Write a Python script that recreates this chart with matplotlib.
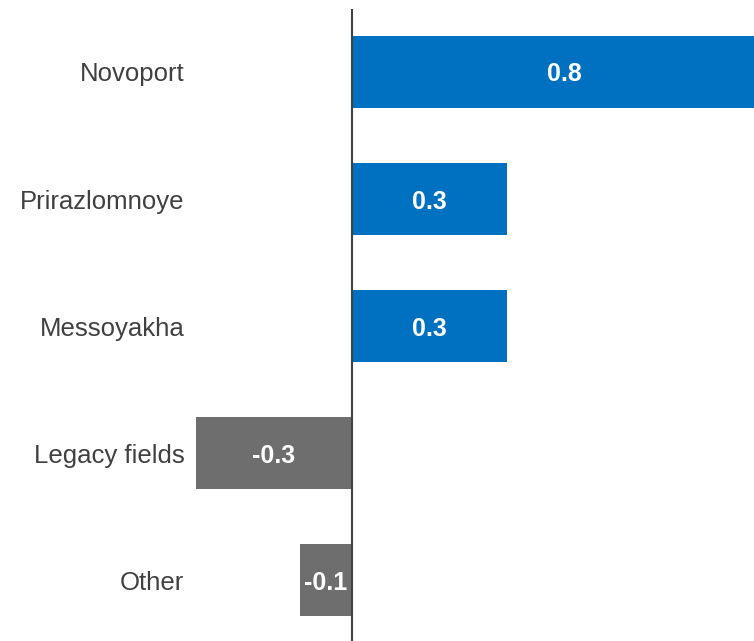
import matplotlib.pyplot as plt

plt.rcParams['font.family'] = ['Liberation Sans', 'DejaVu Sans']

# Field contributions
fields = ['Novoport', 'Prirazlomnoye', 'Messoyakha', 'Legacy fields', 'Other']
values = [0.82, 0.3, 0.3, -0.3, -0.1]
labels = ['0.8', '0.3', '0.3', '-0.3', '-0.1']

W, H = 754, 641
fig = plt.figure(figsize=(W / 100, H / 100), dpi=100)
ax = fig.add_axes([194 / W, 0, (W - 194) / W, (H - 9) / H])

colors = ['#0070C0' if v > 0 else '#6E6E6E' for v in values]
pos = range(len(fields))
ax.barh(pos, values, height=0.56, color=colors)

for i, (v, lab) in enumerate(zip(values, labels)):
    ax.text(v / 2, i, lab, ha='center', va='center_baseline', color='white',
            fontsize=18, fontweight='bold')

ax.axvline(0, color='#404040', lw=1.5)

ax.set_xlim(-0.304, 0.776)
ax.set_ylim(4.48, -0.496)
ax.set_yticks(list(pos))
ax.set_yticklabels(fields, fontsize=18.5, color='#404040')
ax.tick_params(axis='y', length=0, pad=7)
ax.set_xticks([])
for s in ax.spines.values():
    s.set_visible(False)

fig.savefig('out.png', dpi=100)
